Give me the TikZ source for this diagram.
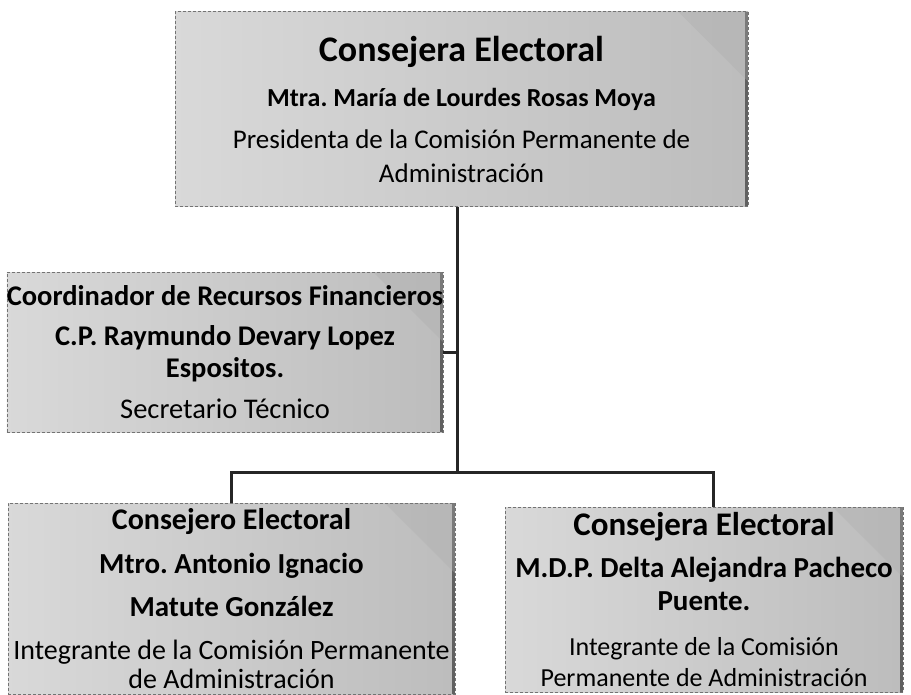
\documentclass[tikz,border=0pt]{standalone}
\usepackage{fontspec}
\setmainfont{Carlito}
\usetikzlibrary{positioning,calc}

\newcommand{\fs}[2]{\fontsize{#1}{#2}\selectfont}
\frenchspacing

\begin{document}
\begin{tikzpicture}[x=1pt,y=-1pt,align=center,
    cargo/.style={rectangle,inner sep=0pt,left color=gray!30,right color=gray!52,
      draw=black!55,line width=0.5pt,densely dashed,font=\fs{27}{34},
      path picture={
        \fill[gray!75!black] ([xshift=-3pt]path picture bounding box.north east)
          rectangle (path picture bounding box.south east);
        \fill[gray!65,opacity=0.35] (path picture bounding box.north east)
          -- ([xshift=-70pt]path picture bounding box.north east)
          -- ([yshift=-70pt]path picture bounding box.north east) -- cycle;}},
    enlace/.style={line width=3pt,black!85}]
  \useasboundingbox (0,0) rectangle (911,694);

  % cajas
  \node[cargo,minimum width=573pt,minimum height=195pt] (pres) at (461.5,109)
    {{\fs{36}{34}\bfseries Consejera Electoral}\\[11pt]
     {\fs{26}{34}\bfseries Mtra. María de Lourdes Rosas Moya}\\[8pt]
     {\fs{27}{34}Presidenta de la Comisión Permanente de}\\
     {\fs{27}{34}Administración}};
  \node[cargo,minimum width=434pt,minimum height=160pt] (coord) at (225,352)
    {{\fs{28.5}{34}\bfseries Coordinador de Recursos Financieros}\\[6pt]
     {\fs{28.5}{34}\bfseries C.P. Raymundo Devary Lopez}\\[-2pt]
     {\fs{28.5}{34}\bfseries Espositos.}\\[7pt]
     {\fs{28.5}{34}Secretario Técnico}};
  \node[cargo,minimum width=447pt,minimum height=191pt] (cons1) at (231.5,598.5)
    {{\fs{30}{34}\bfseries Consejero Electoral}\\[10pt]
     {\fs{29}{34}\bfseries Mtro. Antonio Ignacio}\\[9pt]
     {\fs{29}{34}\bfseries Matute González}\\[9pt]
     {\fs{28}{34}Integrante de la Comisión Permanente}\\[-5pt]
     {\fs{28}{34}de Administración}};
  \node[cargo,minimum width=398pt,minimum height=185pt] (cons2) at (704,599.5)
    {{\fs{33}{34}\bfseries Consejera Electoral}\\[8pt]
     {\fs{29}{34}\bfseries M.D.P. Delta Alejandra Pacheco}\\[-1pt]
     {\fs{29}{34}\bfseries Puente.}\\[11pt]
     {\fs{26}{34}Integrante de la Comisión}\\[-3pt]
     {\fs{26}{34}Permanente de Administración}};

  % lineas
  \coordinate (tronco) at (457,472);
  \coordinate (bajada) at (713,472);
  \draw[enlace] (pres.south -| tronco) -- (tronco);
  \draw[enlace] (coord.east) -- (coord.east -| tronco);
  \draw[enlace] (cons1.north) |- (bajada) -- (bajada |- cons2.north);
\end{tikzpicture}
\end{document}
